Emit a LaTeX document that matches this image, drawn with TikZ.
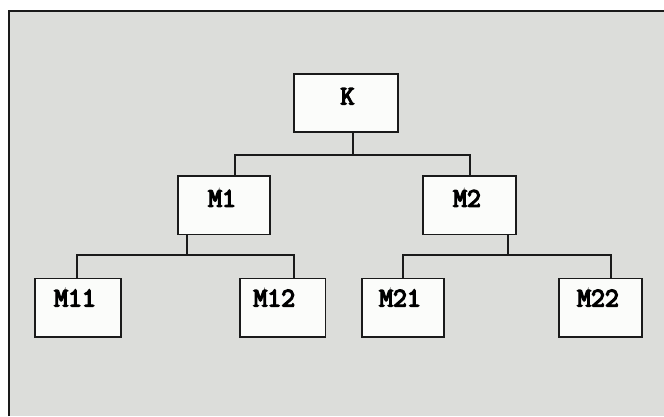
\documentclass[tikz,border=0pt]{standalone}
\usepackage{fontspec}
\newfontfamily\lblfont{Latin Modern Mono}[FakeBold=5]
\definecolor{bgc}{HTML}{DCDDDA}
\definecolor{boxc}{HTML}{FBFCFA}
\definecolor{linec}{HTML}{1A1A1A}
\tikzset{
  box/.style={draw=linec, fill=boxc, line width=1.8pt, rectangle, inner sep=0pt, minimum height=58.5pt},
  lbl/.style={anchor=base, inner sep=0pt, font=\fontsize{27pt}{27pt}\lblfont, text=black},
  conn/.style={draw=linec, line width=1.8pt}
}
\begin{document}
\begin{tikzpicture}[x=1pt, y=-1pt]
\useasboundingbox (0,0) rectangle (664,416);
\fill[white] (0,0) rectangle (664,416);
\fill[bgc] (8.7,11.2) rectangle (664,416);
\draw[linec, line width=1.8pt] (8.7,416) -- (8.7,11.2) -- (664,11.2);

% boxes
\node[box, minimum width=104pt] (K)   at (346.2,102.9) {};
\node[box, minimum width=91.5pt] (M1)  at (224,205.3) {};
\node[box, minimum width=93pt] (M2)  at (469.8,205.3) {};
\node[box, minimum width=86pt] (M11) at (77.9,307.7) {};
\node[box, minimum width=85.5pt] (M12) at (282.7,307.7) {};
\node[box, minimum width=82pt] (M21) at (402.7,307.7) {};
\node[box, minimum width=82.5pt] (M22) at (600.5,307.7) {};

% labels
\node[lbl] (tK)   at (347.5,104.5) {K};
\node[lbl] (tM1)  at (222,206.8) {M1};
\node[lbl] (tM2)  at (467,206.8) {M2};
\node[lbl] (tM11) at (75,306.5) {M11};
\node[lbl] (tM12) at (274.3,306.5) {M12};
\node[lbl] (tM21) at (400,306.5) {M21};
\node[lbl] (tM22) at (598,306.5) {M22};

% junctions
\coordinate (j1) at (353.3,155);
\coordinate (j2) at (186.7,255);
\coordinate (j3) at (508,255);

% connectors
\draw[conn] (K.south -| j1) -- (j1);
\draw[conn] ([xshift=11pt]M1.north) |- (j1) -| (M2.north);
\draw[conn] (M1.south -| j2) -- (j2);
\draw[conn] ([xshift=-0.6pt]M11.north) |- (j2) -| ([xshift=11.3pt]M12.north);
\draw[conn] (M2.south -| j3) -- (j3);
\draw[conn] (M21.north) |- (j3) -| ([xshift=10.5pt]M22.north);
\end{tikzpicture}
\end{document}
